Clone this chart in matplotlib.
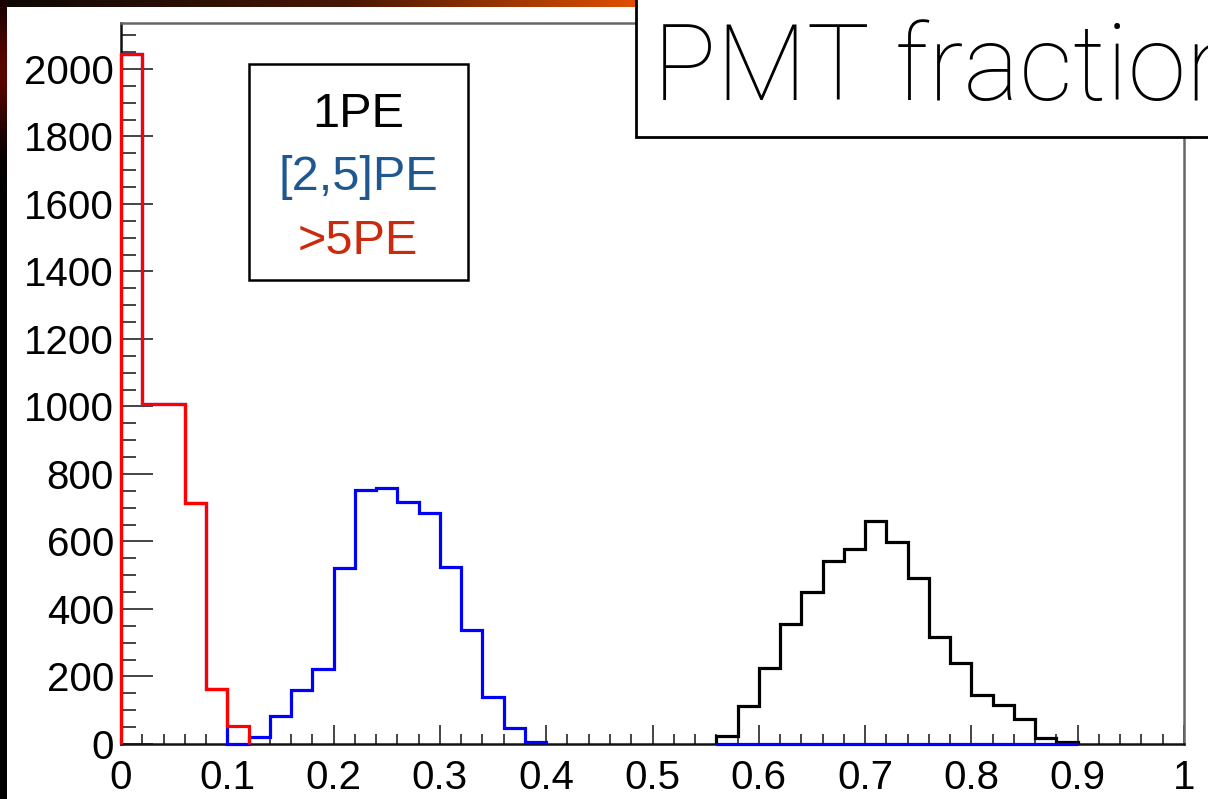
import numpy as np
import matplotlib
matplotlib.use("Agg")
from matplotlib import pyplot as plt
from matplotlib.patches import Rectangle

# histogram contents, bin width 0.02 on the PMT fraction axis
bin_width = 0.02

red_start = 0.0
red_counts = [2043, 1008, 1006, 714, 163, 53]

blue_start = 0.0
blue_counts = [2043, 1008, 1006, 714, 163, 0, 21, 83, 160, 222,
               521, 752, 758, 717, 684, 524, 338, 139, 47, 5]
blue_tail_start = 0.56
blue_tail_counts = [0] * 17

black_start = 0.56
black_counts = [24, 112, 225, 356, 450, 542, 578, 661, 598, 492,
                317, 240, 145, 116, 74, 18, 5]

legend_labels = ["1PE", "[2,5]PE", ">5PE"]
legend_colors = ["#000000", "#1f5791", "#cc2a0c"]
title_text = "PMT fraction"

W, H = 1208, 799


def edges_for(start, counts):
    return start + bin_width * np.arange(len(counts) + 1)


fig = plt.figure(figsize=(W / 100, H / 100), dpi=100, facecolor="white")

# slide background: dark strip on the left, gradient band along the top
bg = fig.add_axes([0, 0, 1, 1], zorder=-10)
bg.set_xlim(0, W)
bg.set_ylim(H, 0)
bg.axis("off")
t = np.linspace(0, 1, 256)
stops = np.array([[0.05, 0.03, 0.02], [0.28, 0.09, 0.02], [0.88, 0.31, 0.0]])
band = np.stack([np.interp(t, [0, 0.55, 1], stops[:, c]) for c in range(3)], axis=-1)
bg.imshow(band[np.newaxis, :, :], extent=(0, 636, 7, 0), aspect="auto", zorder=1)
s = np.linspace(0, 1, 256)
glow = np.exp(-((s * H - 70) / 60.0) ** 2)
left = np.stack([0.35 * glow, 0.02 * glow, 0.0 * glow], axis=-1)
bg.imshow(left[:, np.newaxis, :], extent=(0, 7, H, 0), aspect="auto", zorder=1)

# main histogram frame
x0, x1, y_top, y_bot = 121, 1184, 23, 744
ax = fig.add_axes([x0 / W, (H - y_bot) / H, (x1 - x0) / W, (y_bot - y_top) / H])
ax.set_xlim(0, 1)
ax.set_ylim(0, 2136)

ax.stairs(blue_counts, edges_for(blue_start, blue_counts), color="#0000ff",
          lw=2.3, baseline=0, clip_on=False, zorder=3)
ax.stairs(blue_tail_counts, edges_for(blue_tail_start, blue_tail_counts), color="#0000ff",
          lw=2.3, baseline=0, clip_on=False, zorder=3)
ax.stairs(red_counts, edges_for(red_start, red_counts), color="#ff0000",
          lw=2.3, baseline=0, clip_on=False, zorder=4)
ax.stairs(black_counts, edges_for(black_start, black_counts), color="#000000",
          lw=2.3, baseline=0, clip_on=False, zorder=2)

ax.set_xticks(np.arange(0, 1.01, 0.1))
ax.set_xticks(np.arange(0, 1.001, 0.02), minor=True)
ax.set_yticks(np.arange(0, 2001, 200))
ax.set_yticks(np.arange(0, 2101, 50), minor=True)
ax.set_xticklabels(["0", "0.1", "0.2", "0.3", "0.4", "0.5", "0.6", "0.7", "0.8", "0.9", "1"])
ax.set_yticklabels([str(v) for v in range(0, 2001, 200)])

for lab in ax.get_xticklabels() + ax.get_yticklabels():
    lab.set_fontfamily("Liberation Sans")
    lab.set_fontsize(29)

ax.tick_params(axis="y", which="major", direction="in", length=23, width=1.4,
               color="#444444", pad=5)
ax.tick_params(axis="y", which="minor", direction="in", length=11, width=1.4,
               color="#444444")
ax.tick_params(axis="x", which="major", direction="in", length=14, width=1.4,
               color="#444444", pad=11)
ax.tick_params(axis="x", which="minor", direction="in", length=7, width=1.4,
               color="#444444")

for side in ("left", "bottom"):
    ax.spines[side].set_color("#111111")
    ax.spines[side].set_linewidth(1.8)
for side in ("top", "right"):
    ax.spines[side].set_color("#666666")
    ax.spines[side].set_linewidth(1.8)

# overlay: legend box and the slide title box
ov = fig.add_axes([0, 0, 1, 1], zorder=10)
ov.set_xlim(0, W)
ov.set_ylim(H, 0)
ov.axis("off")
ov.patch.set_alpha(0)

ov.add_patch(Rectangle((249, 64), 219, 216, facecolor="white", edgecolor="black", lw=1.8))
for label, color, base in zip(legend_labels, legend_colors, [127, 190, 254]):
    ov.text(358, base, label, color=color, ha="center", va="baseline",
            fontsize=35, family="Liberation Sans")

ov.add_patch(Rectangle((636, -10), 600, 147, facecolor="white", edgecolor="black",
                       lw=2.0, clip_on=False))
ov.text(653, 100, title_text, ha="left", va="baseline", fontsize=76,
        family="Roboto", fontweight="light", color="black")

fig.savefig("out.png", dpi=100, facecolor="white")
